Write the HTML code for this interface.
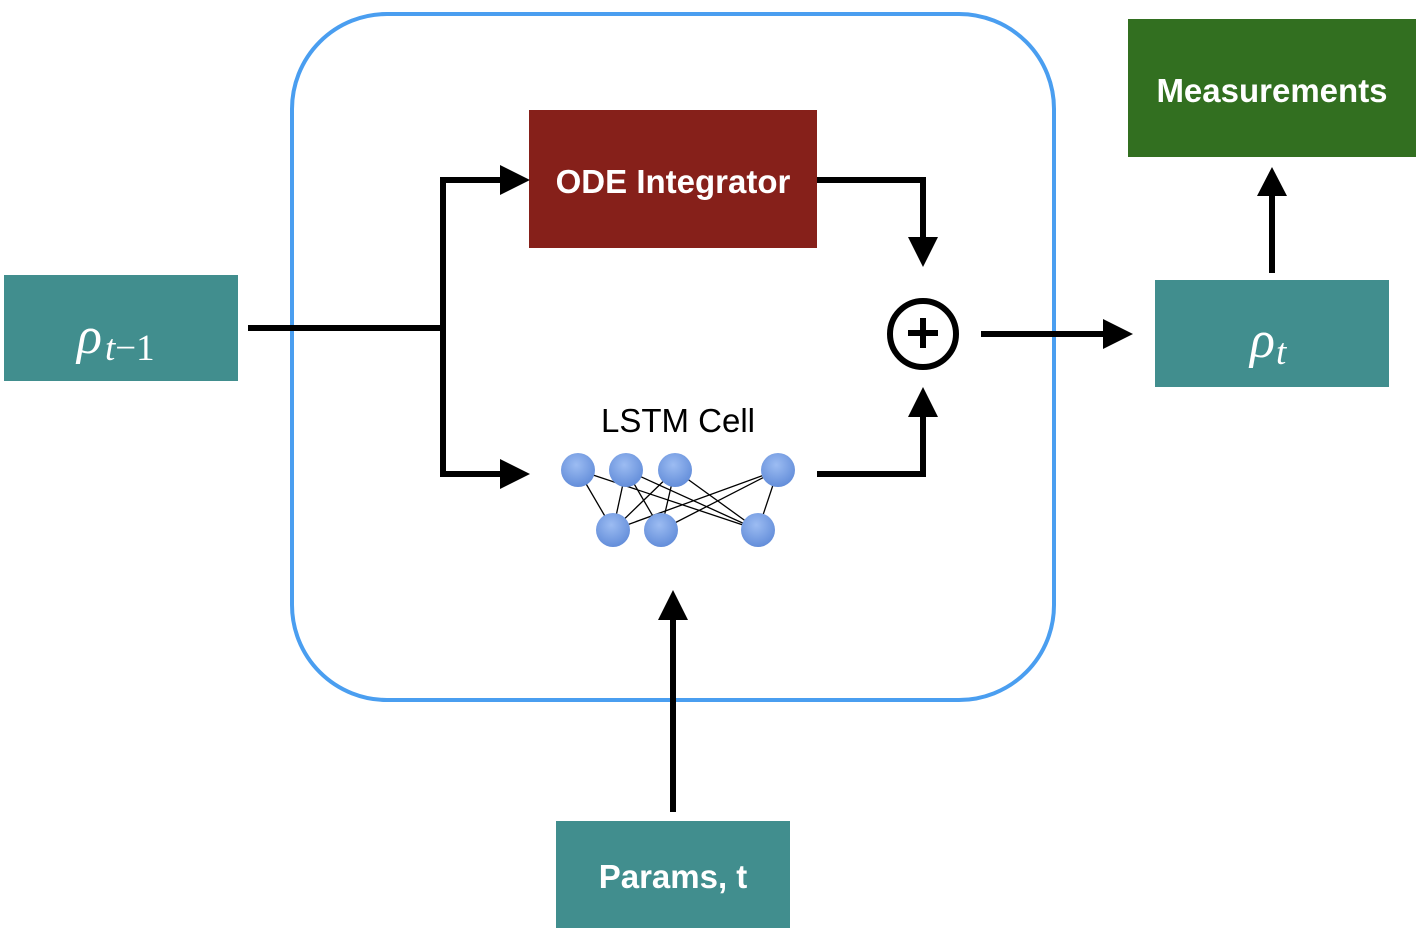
<!DOCTYPE html>
<html><head><style>
html,body{margin:0;padding:0;background:#fff;}
svg{display:block;}
</style></head><body>
<svg width="1422" height="932" viewBox="0 0 1422 932" xmlns="http://www.w3.org/2000/svg">
<rect x="292" y="14" width="762" height="686" rx="95" ry="95" fill="none" stroke="#4a9ef0" stroke-width="4"/>
<rect x="4" y="275" width="234" height="106" fill="#418e8e"/>
<text x="77" y="353" font-family="Liberation Serif, serif" font-style="italic" font-size="52" fill="#fff">ρ</text>
<text x="105" y="360" font-family="Liberation Serif, serif" font-size="37" fill="#fff"><tspan font-style="italic">t</tspan>−1</text>
<rect x="1155" y="280" width="234" height="107" fill="#418e8e"/>
<text x="1250" y="357" font-family="Liberation Serif, serif" font-style="italic" font-size="52" fill="#fff">ρ</text>
<text x="1276" y="364" font-family="Liberation Serif, serif" font-style="italic" font-size="37" fill="#fff">t</text>
<rect x="1128" y="19" width="288" height="138" fill="#326f20"/>
<text x="1272" y="102" text-anchor="middle" font-family="Liberation Sans, sans-serif" font-weight="bold" font-size="33" fill="#fff">Measurements</text>
<rect x="529" y="110" width="288" height="138" fill="#86201a"/>
<text x="673" y="193" text-anchor="middle" font-family="Liberation Sans, sans-serif" font-weight="bold" font-size="33" fill="#fff">ODE Integrator</text>
<rect x="556" y="821" width="234" height="107" fill="#418e8e"/>
<text x="673" y="888" text-anchor="middle" font-family="Liberation Sans, sans-serif" font-weight="bold" font-size="33" fill="#fff">Params, t</text>
<text x="678" y="432" text-anchor="middle" font-family="Liberation Sans, sans-serif" font-size="33" fill="#000">LSTM Cell</text>
<g stroke="#000" stroke-width="6" fill="none">
<polyline points="248,328 443,328"/>
<polyline points="500,180 443,180 443,474 500,474"/>
<polyline points="817,180 923,180 923,238"/>
<polyline points="817,474 923,474 923,416"/>
<line x1="981" y1="334" x2="1105" y2="334"/>
<line x1="1272" y1="273" x2="1272" y2="195"/>
<line x1="673" y1="812" x2="673" y2="618"/>
<circle cx="923" cy="334" r="33"/>
<line x1="923" y1="318" x2="923" y2="348"/>
<line x1="908" y1="333" x2="938" y2="333"/>
</g>
<g fill="#000">
<polygon points="500,165 530,180 500,195"/>
<polygon points="500,459 530,474 500,489"/>
<polygon points="908,237 938,237 923,267"/>
<polygon points="908,417 938,417 923,387"/>
<polygon points="1103,319 1133,334 1103,349"/>
<polygon points="1257,196 1287,196 1272,167"/>
<polygon points="658,620 688,620 673,590"/>
</g>
<defs>
<radialGradient id="g" cx="0.45" cy="0.35" r="0.7">
<stop offset="0" stop-color="#9cbcf2"/><stop offset="1" stop-color="#5f8ad8"/>
</radialGradient>
</defs>
<g stroke="#000" stroke-width="1.3">
<line x1="578" y1="470" x2="613" y2="530"/>
<line x1="578" y1="470" x2="758" y2="530"/>
<line x1="626" y1="470" x2="613" y2="530"/>
<line x1="626" y1="470" x2="661" y2="530"/>
<line x1="626" y1="470" x2="758" y2="530"/>
<line x1="675" y1="470" x2="613" y2="530"/>
<line x1="675" y1="470" x2="661" y2="530"/>
<line x1="675" y1="470" x2="758" y2="530"/>
<line x1="778" y1="470" x2="613" y2="530"/>
<line x1="778" y1="470" x2="661" y2="530"/>
<line x1="778" y1="470" x2="758" y2="530"/>
</g>
<g fill="url(#g)">
<circle cx="578" cy="470" r="17"/><circle cx="626" cy="470" r="17"/><circle cx="675" cy="470" r="17"/><circle cx="778" cy="470" r="17"/>
<circle cx="613" cy="530" r="17"/><circle cx="661" cy="530" r="17"/><circle cx="758" cy="530" r="17"/>
</g>
</svg>
</body></html>
